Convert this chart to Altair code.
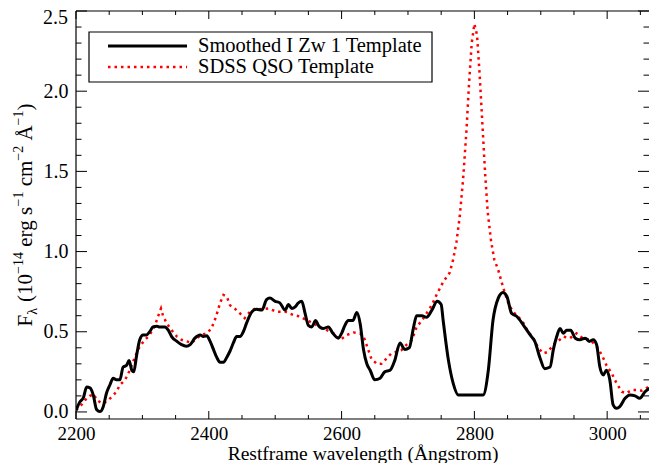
import altair as alt
import pandas as pd

# ---------------- data ----------------
izw1_wave = [2200, 2206, 2211, 2216, 2221, 2226, 2231, 2236, 2241, 2246, 2251, 2256, 2261, 2266,
             2271, 2276, 2280, 2284, 2287, 2291, 2296, 2301, 2306, 2311, 2316, 2322, 2326, 2334,
             2339, 2344, 2352, 2359, 2366, 2372, 2379, 2387, 2392, 2397, 2402, 2407, 2412, 2417,
             2422, 2427, 2432, 2437, 2442, 2447, 2452, 2457, 2465, 2472, 2480, 2487, 2492, 2500,
             2507, 2515, 2520, 2525, 2530, 2535, 2540, 2545, 2550, 2555, 2561, 2565, 2572, 2580,
             2587, 2595, 2600, 2605, 2610, 2617, 2623, 2628, 2633, 2638, 2643, 2650, 2658, 2665,
             2673, 2680, 2688, 2695, 2702, 2708, 2713, 2721, 2728, 2736, 2744, 2750, 2753, 2761,
             2768, 2776, 2813, 2821, 2828, 2836, 2843, 2849, 2856, 2864, 2874, 2884, 2891, 2899,
             2906, 2914, 2919, 2924, 2929, 2934, 2939, 2945, 2952, 2959, 2967, 2973, 2979, 2984,
             2989, 2994, 2999, 3004, 3009, 3014, 3019, 3027, 3034, 3042, 3049, 3057, 3064, 3072,
             3078]
izw1_flux = [0.01, 0.064, 0.087, 0.155, 0.15, 0.106, 0.015, 0.002, 0.033, 0.118, 0.168, 0.21, 0.2, 0.2,
             0.28, 0.29, 0.32, 0.26, 0.25, 0.345, 0.45, 0.48, 0.48, 0.50, 0.53, 0.535, 0.53, 0.53,
             0.51, 0.47, 0.44, 0.42, 0.41, 0.42, 0.46, 0.48, 0.47, 0.475, 0.44, 0.39, 0.34, 0.31,
             0.31, 0.34, 0.38, 0.43, 0.47, 0.47, 0.50, 0.555, 0.625, 0.64, 0.635, 0.70, 0.71, 0.69,
             0.68, 0.635, 0.67, 0.645, 0.655, 0.68, 0.69, 0.615, 0.54, 0.53, 0.57, 0.54, 0.52, 0.53,
             0.49, 0.46, 0.49, 0.54, 0.57, 0.57, 0.62, 0.55, 0.39, 0.30, 0.26, 0.20, 0.21, 0.25,
             0.26, 0.32, 0.43, 0.39, 0.40, 0.52, 0.60, 0.60, 0.59, 0.635, 0.69, 0.67, 0.57, 0.32,
             0.18, 0.105, 0.105, 0.26, 0.57, 0.71, 0.745, 0.72, 0.615, 0.595, 0.54, 0.48, 0.44, 0.335,
             0.27, 0.28, 0.39, 0.47, 0.52, 0.49, 0.51, 0.51, 0.46, 0.45, 0.46, 0.44, 0.45, 0.42,
             0.28, 0.23, 0.26, 0.20, 0.044, 0.023, 0.033, 0.085, 0.106, 0.10, 0.085, 0.126, 0.148, 0.168,
             0.16]

qso_wave = [2200, 2206, 2214, 2221, 2227, 2231, 2239, 2246, 2254, 2261, 2266, 2274, 2281, 2289,
            2296, 2304, 2311, 2319, 2324, 2328, 2331, 2337, 2344, 2352, 2359, 2367, 2374, 2382,
            2389, 2397, 2404, 2411, 2417, 2422, 2427, 2432, 2439, 2447, 2454, 2462, 2470, 2480,
            2490, 2502, 2515, 2527, 2537, 2547, 2557, 2567, 2578, 2588, 2598, 2608, 2618, 2628,
            2634, 2640, 2645, 2653, 2660, 2668, 2675, 2683, 2690, 2698, 2706, 2713, 2721, 2728,
            2736, 2743, 2748, 2753, 2758, 2763, 2768, 2773, 2778, 2783, 2788, 2792, 2796, 2800,
            2804, 2808, 2812, 2816, 2820, 2825, 2830, 2836, 2841, 2846, 2851, 2858, 2866, 2874,
            2881, 2889, 2896, 2904, 2911, 2919, 2926, 2934, 2944, 2954, 2963, 2974, 2984, 2992,
            2999, 3007, 3014, 3022, 3029, 3037, 3044, 3052, 3059, 3067, 3078]
qso_flux = [0.012, 0.033, 0.075, 0.10, 0.11, 0.075, 0.054, 0.064, 0.095, 0.126, 0.168, 0.20, 0.26, 0.345,
            0.41, 0.45, 0.48, 0.54, 0.60, 0.645, 0.60, 0.55, 0.51, 0.47, 0.45, 0.44, 0.43, 0.46,
            0.48, 0.49, 0.52, 0.595, 0.68, 0.73, 0.72, 0.665, 0.645, 0.615, 0.585, 0.625, 0.645, 0.64,
            0.645, 0.625, 0.625, 0.605, 0.595, 0.573, 0.553, 0.53, 0.51, 0.49, 0.45, 0.48, 0.495, 0.49,
            0.46, 0.39, 0.33, 0.30, 0.30, 0.335, 0.365, 0.375, 0.385, 0.42, 0.45, 0.53, 0.57, 0.615,
            0.667, 0.73, 0.77, 0.81, 0.84, 0.87, 0.95, 1.06, 1.22, 1.45, 1.75, 2.05, 2.3, 2.42,
            2.35, 2.1, 1.8, 1.5, 1.25, 1.07, 0.95, 0.885, 0.81, 0.74, 0.68, 0.625, 0.595, 0.553,
            0.50, 0.46, 0.40, 0.365, 0.375, 0.42, 0.44, 0.47, 0.46, 0.49, 0.46, 0.45, 0.41, 0.355,
            0.29, 0.24, 0.18, 0.126, 0.117, 0.137, 0.137, 0.133, 0.148, 0.168, 0.158]

x_major = [2200, 2400, 2600, 2800, 3000]
x_minor = [2250, 2300, 2350, 2450, 2500, 2550, 2650, 2700, 2750, 2850, 2900, 2950, 3050]
y_major = [0.0, 0.5, 1.0, 1.5, 2.0, 2.5]
y_minor = [0.1, 0.2, 0.3, 0.4, 0.6, 0.7, 0.8, 0.9, 1.1, 1.2, 1.3, 1.4,
           1.6, 1.7, 1.8, 1.9, 2.1, 2.2, 2.3, 2.4]

series_names = ["Smoothed I Zw 1 Template", "SDSS QSO Template"]
x_title = "Restframe wavelength (Ångstrom)"

# ---------------- layout ----------------
# page is 657 wide with an 8px margin: the chart may only use x = 8..649, y = 8..463
W, H = 573, 408
X_DOMAIN = [2200, 3063]
Y_DOMAIN = [-0.044, 2.5]
FONT = "Liberation Serif"
LABEL_FS = 20

xs = alt.Scale(domain=X_DOMAIN, nice=False, zero=False)
ys = alt.Scale(domain=Y_DOMAIN, nice=False, zero=False)
x_axis = alt.Axis(values=x_major, format="d", title=x_title, labelFlush=False,
                  labelFontSize=19, labelPadding=5, titleY=40, titleBaseline="alphabetic")
# top label (2.5) is drawn separately so it is not cut at the page edge
y_axis = alt.Axis(values=y_major[:-1], format=".1f", title=None, labelFlush=False,
                  labelPadding=8)

df_izw = pd.DataFrame({"wave": izw1_wave, "flux": izw1_flux})
df_qso = pd.DataFrame({"wave": qso_wave, "flux": qso_flux})
one = pd.DataFrame({"a": [0]})

layers = []

red = alt.Chart(df_qso).mark_line(
    color="#ff0000", strokeWidth=2.5, strokeDash=[2.5, 4], clip=True
).encode(
    x=alt.X("wave:Q", scale=xs, axis=x_axis),
    y=alt.Y("flux:Q", scale=ys, axis=y_axis),
)
black = alt.Chart(df_izw).mark_line(
    color="black", strokeWidth=3, clip=True, interpolate="monotone"
).encode(
    x=alt.X("wave:Q", scale=xs, axis=x_axis),
    y=alt.Y("flux:Q", scale=ys, axis=y_axis),
)
layers += [red, black]

# inward ticks (IDL style) on all four sides
def xticks(vals, length):
    d = pd.DataFrame({"wave": vals})
    bot = alt.Chart(d).mark_rule(color="black", strokeWidth=1).encode(
        x=alt.X("wave:Q", scale=xs, axis=x_axis), y=alt.value(H), y2=alt.value(H - length))
    top = alt.Chart(d).mark_rule(color="black", strokeWidth=1).encode(
        x=alt.X("wave:Q", scale=xs, axis=x_axis), y=alt.value(0), y2=alt.value(length))
    return [bot, top]

def yticks(vals, length):
    d = pd.DataFrame({"flux": vals})
    left = alt.Chart(d).mark_rule(color="black", strokeWidth=1).encode(
        y=alt.Y("flux:Q", scale=ys, axis=y_axis), x=alt.value(0), x2=alt.value(length))
    right = alt.Chart(d).mark_rule(color="black", strokeWidth=1).encode(
        y=alt.Y("flux:Q", scale=ys, axis=y_axis), x=alt.value(W), x2=alt.value(W - length))
    return [left, right]

layers += xticks(x_major, 8) + xticks(x_minor, 4) + yticks(y_major, 11) + yticks(y_minor, 5.5)

# label of the top y tick
layers.append(alt.Chart(pd.DataFrame({"flux": y_major[-1:]})).mark_text(
    font=FONT, fontSize=LABEL_FS, align="right", baseline="middle", dy=7, color="black"
).encode(y=alt.Y("flux:Q", scale=ys, axis=y_axis), x=alt.value(-8),
         text=alt.Text("flux:Q", format=".1f")))

# frame (left, bottom, top)
for enc in [dict(x=alt.value(0), x2=alt.value(W), y=alt.value(0)),
            dict(x=alt.value(0), x2=alt.value(W), y=alt.value(H)),
            dict(x=alt.value(0), y=alt.value(0), y2=alt.value(H))]:
    layers.append(alt.Chart(one).mark_rule(color="black", strokeWidth=1.2).encode(**enc))

# legend
layers.append(alt.Chart(one).mark_rect(fill="white", stroke="black", strokeWidth=1.2).encode(
    x=alt.value(13), x2=alt.value(356), y=alt.value(21), y2=alt.value(71)))
layers.append(alt.Chart(one).mark_rule(color="black", strokeWidth=3).encode(
    x=alt.value(32), x2=alt.value(111), y=alt.value(35)))
layers.append(alt.Chart(one).mark_rule(color="#ff0000", strokeWidth=2.5, strokeDash=[2.5, 4]).encode(
    x=alt.value(32), x2=alt.value(111), y=alt.value(56)))
for name, yy in zip(series_names, [41, 62]):
    layers.append(alt.Chart(one).mark_text(
        text=name, font=FONT, fontSize=20.5, align="left", baseline="alphabetic", color="black"
    ).encode(x=alt.value(122), y=alt.value(yy)))

# rotated y-axis title with sub/superscripts (spaces handled as gaps)
glyph_w = {"F": 0.556, " ": 0.25, "(": 0.333, ")": 0.333, "1": 0.5, "0": 0.5, "4": 0.5,
           "2": 0.5, "\u2212": 0.564, "e": 0.444, "r": 0.333, "g": 0.5, "s": 0.389,
           "c": 0.444, "m": 0.778, "\u00c5": 0.722, "\u03bb": 0.55}
MAIN, SCRIPT = 21, 14
GAP = None
pieces = [("F", MAIN, 0), ("\u03bb", SCRIPT, 5), (GAP, MAIN, 0), ("(10", MAIN, 0),
          ("\u221214", SCRIPT, -9), (GAP, MAIN, 0), ("erg s", MAIN, 0), ("\u22121", SCRIPT, -9),
          (GAP, MAIN, 0), ("cm", MAIN, 0), ("\u22122", SCRIPT, -9), (GAP, MAIN, 0),
          ("\u00c5", MAIN, 0), ("\u22121", SCRIPT, -9), (")", MAIN, 0)]
widths = [(0.25 if t is None else sum(glyph_w.get(c, 0.5) for c in t)) * fs for t, fs, _ in pieces]
total = sum(widths)
start = H / 2 + total / 2
base_x = -44
cum = 0
for (t, fs, shift), w in zip(pieces, widths):
    if t is not None:
        layers.append(alt.Chart(one).mark_text(
            text=t, font=FONT, fontSize=fs, angle=270, align="left", baseline="alphabetic",
            color="black"
        ).encode(x=alt.value(base_x + shift), y=alt.value(start - cum)))
    cum += w

chart = alt.layer(*layers).properties(
    width=W, height=H,
    padding={"left": 68, "top": 3, "right": 0, "bottom": 44},
    autosize=alt.AutoSizeParams(type="none"),
).configure_view(stroke=None).configure_axis(
    labelFont=FONT, labelFontSize=LABEL_FS, labelColor="black",
    titleFont=FONT, titleFontSize=19.5, titleFontWeight="normal", titleColor="black",
    ticks=False, tickSize=0, domain=False, grid=False,
)

chart.save("out.html", embed_options={"renderer": "svg", "actions": False})
